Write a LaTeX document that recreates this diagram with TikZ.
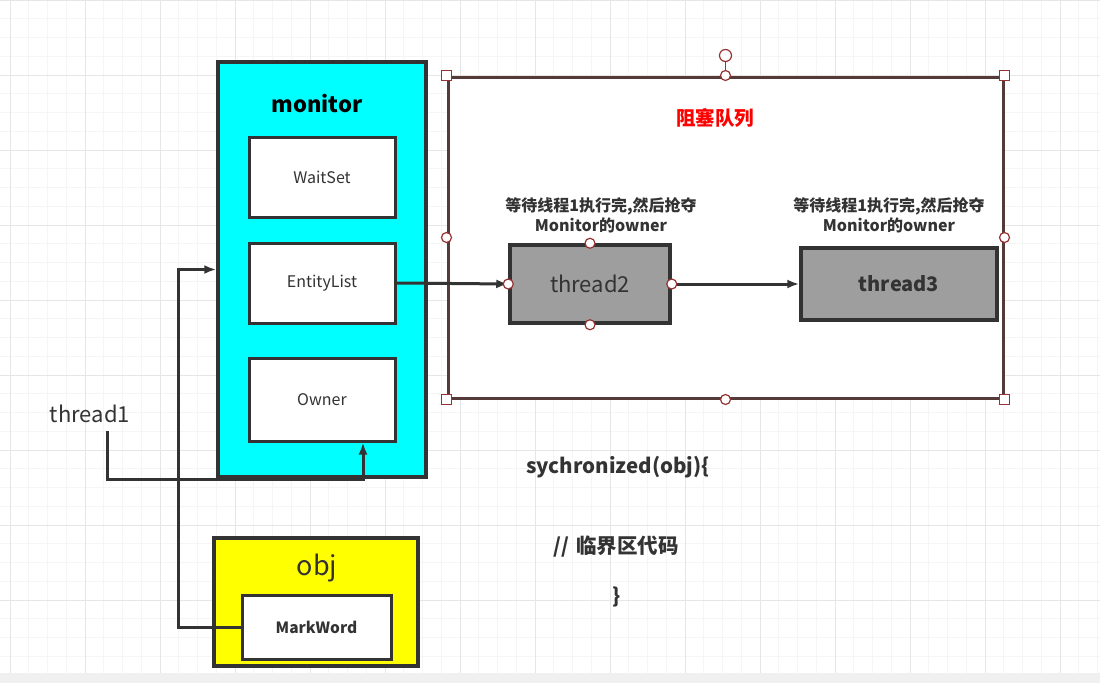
\documentclass[tikz,border=0pt]{standalone}
\usepackage{fontspec}
\setmainfont{Noto Sans CJK SC}
\usepackage{xcolor}
\usepackage{tikz}
\usetikzlibrary{arrows.meta,positioning}
\definecolor{inkgray}{RGB}{51,51,51}
\definecolor{boxcyan}{RGB}{0,255,255}
\definecolor{boxyellow}{RGB}{255,255,0}
\definecolor{threadgray}{RGB}{158,158,158}
\definecolor{selbrown}{RGB}{85,58,58}
\definecolor{handlered}{RGB}{150,50,50}
\definecolor{gridminor}{RGB}{245,245,245}
\definecolor{gridmajor}{RGB}{230,230,230}

\begin{document}
\begin{tikzpicture}[x=1pt,y=-1pt,
  outerbox/.style={draw=inkgray,line width=3.5pt},
  slot/.style={draw=inkgray,line width=3pt,fill=white,text=inkgray,
               minimum width=146pt,minimum height=80pt,font=\fontsize{16}{18}\selectfont},
  threadbox/.style={draw=inkgray,line width=3.5pt,fill=threadgray,text=inkgray},
  note/.style={text=inkgray,align=center,font=\fontsize{16}{20}\selectfont\bfseries},
  code/.style={text=inkgray,font=\fontsize{20.5}{22}\selectfont\bfseries},
  arrow/.style={-{Latex[length=12pt,width=9pt]},line width=3pt,draw=inkgray},
  sqhandle/.style={draw=handlered,fill=white,line width=1.2pt,minimum size=10pt,inner sep=0pt},
  cirhandle/.style={draw=handlered,fill=white,line width=1.2pt,circle,minimum size=10pt,inner sep=0pt}
]
  \useasboundingbox (0,0) rectangle (1100,683);
  % background grid
  \foreach \i in {0,...,58} \draw[gridminor,line width=1pt] (10+\i*18.75,0) -- (10+\i*18.75,673);
  \foreach \j in {0,...,35} \draw[gridminor,line width=1pt] (0,\j*18.75) -- (1100,\j*18.75);
  \foreach \i in {0,...,14} \draw[gridmajor,line width=1pt] (10+\i*75,0) -- (10+\i*75,673);
  \foreach \j in {0,...,8} \draw[gridmajor,line width=1pt] (0,\j*75) -- (1100,\j*75);
  \fill[gray!12] (0,673) rectangle (1100,683);

  % monitor
  \node[outerbox,fill=boxcyan,minimum width=208pt,minimum height=415pt] (monitor) at (322,269.5) {};
  \node[font=\fontsize{22}{24}\selectfont\bfseries] (monitortitle) at (317,104) {monitor};
  \node[slot] (waitset) at (322,177) {WaitSet};
  \node[slot] (entitylist) at (322,283) {EntityList};
  \node[slot,minimum height=83pt] (owner) at (322,399.5) {Owner};

  % blocking queue
  \node[draw=selbrown,line width=3pt,fill=white,minimum width=555pt,minimum height=321pt] (queue) at (725.5,237.5) {};
  \node[text=red,font=\fontsize{19.5}{22}\selectfont\bfseries] (queuetitle) at (715,118) {阻塞队列};
  \node[threadbox,minimum width=160pt,minimum height=78pt,font=\fontsize{22}{24}\selectfont] (thread2) at (590,284) {thread2};
  \node[threadbox,minimum width=196pt,minimum height=72pt,font=\fontsize{20}{24}\selectfont\bfseries] (thread3) at (899,284) {thread3};
  \node[note] (wait2) at (601,215) {等待线程1执行完,然后抢夺\\Monitor的owner};
  \node[note] (wait3) at (889,215) {等待线程1执行完,然后抢夺\\Monitor的owner};

  % obj
  \node[outerbox,fill=boxyellow,minimum width=204pt,minimum height=128pt] (obj) at (316,602) {};
  \node[text=inkgray,font=\fontsize{27}{30}\selectfont] (objtitle) at (317,568) {obj};
  \node[slot,minimum width=149pt,minimum height=64pt,font=\fontsize{15.5}{18}\selectfont\bfseries] (markword) at (316.5,627) {MarkWord};

  \node[text=inkgray,font=\fontsize{22}{24}\selectfont] (thread1) at (90,414) {thread1};

  % code
  \node[code] (syncline) at (618,467) {sychronized(obj)\{};
  \node[code] (critline) at (616,547) {//\hspace{7pt}临界区代码};
  \node[code] (closeline) at (617,597) {\}};

  % connectors
  \draw[arrow] (entitylist.east) -- (thread2.west);
  \draw[arrow] (thread2.east) -- (thread3.west);
  \draw[arrow] ([xshift=17pt,yshift=-5pt]thread1.south) -- ++(0,48) -| ([xshift=41pt]owner.south);
  \draw[arrow] (markword.west) -- ++(-62,0) |- (monitor.west);

  % selection handles
  \draw[handlered,line width=1.2pt] (queue.north) -- ++(0,-20) node[cirhandle,minimum size=12pt] (rotate) {};
  \foreach \a in {north west,north east,south west,south east} \node[sqhandle] at (queue.\a) {};
  \foreach \a in {north,south,east,west} \node[cirhandle] at (queue.\a) {};
  \foreach \a in {north,south,east,west} \node[cirhandle] at (thread2.\a) {};
\end{tikzpicture}
\end{document}
